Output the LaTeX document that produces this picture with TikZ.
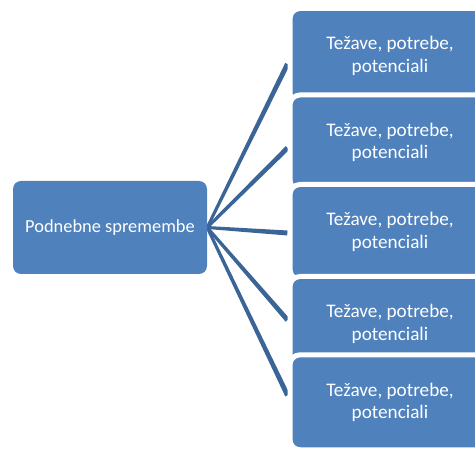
\documentclass[tikz,border=0pt]{standalone}
\usepackage{fontspec}
\setmainfont{Carlito}
\usetikzlibrary{calc,backgrounds}
\definecolor{boxblue}{HTML}{4F81BD}
\definecolor{linkblue}{HTML}{3C6597}
\newcommand\taperlink[2]{%
  \fill[linkblue] let \p1=(#1), \p2=(#2), \n1={atan2(\y2-\y1,\x2-\x1)} in
    ($(\p1)+(\n1+90:1.5pt)$) -- ($(\p2)+(\n1+90:2.5pt)$) --
    ($(\p2)+(\n1-90:2.5pt)$) -- ($(\p1)+(\n1-90:1.5pt)$) -- cycle;}
\begin{document}
\begin{tikzpicture}[x=1pt,y=-1pt,
  mainbox/.style={fill=boxblue, rounded corners=8pt, minimum width=194pt,
    minimum height=93pt, inner sep=0pt, text=white,
    font=\fontsize{18.4}{22.4}\selectfont},
  subbox/.style={fill=boxblue, draw=white, line width=5pt, rounded corners=10pt,
    minimum width=200pt, minimum height=95pt, inner sep=0pt, text=white,
    align=center, font=\fontsize{19.2}{22.4}\selectfont}]
\useasboundingbox (0,0) rectangle (475,449);
\node[mainbox] (m) at (110,227.5) {Podnebne spremembe};
\node[subbox] (b1) at (390,56) {Težave, potrebe,\\potenciali};
\node[subbox] (b2) at (390,142.5) {Težave, potrebe,\\potenciali};
\node[subbox] (b3) at (390,232) {Težave, potrebe,\\potenciali};
\node[subbox] (b4) at (390,324) {Težave, potrebe,\\potenciali};
\node[subbox] (b5) at (390,402.3) {Težave, potrebe,\\potenciali};
\coordinate (e1) at ([yshift=-8pt]b1.west);
\coordinate (e2) at ([yshift=-5.5pt]b2.west);
\coordinate (e3) at ([yshift=-1pt]b3.west);
\coordinate (e4) at ([yshift=4pt]b4.west);
\coordinate (e5) at ([yshift=7pt]b5.west);
\begin{scope}[on background layer]
  \taperlink{m.east}{e1}
  \taperlink{m.east}{e2}
  \taperlink{m.east}{e3}
  \taperlink{m.east}{e4}
  \taperlink{m.east}{e5}
\end{scope}
\end{tikzpicture}
\end{document}
